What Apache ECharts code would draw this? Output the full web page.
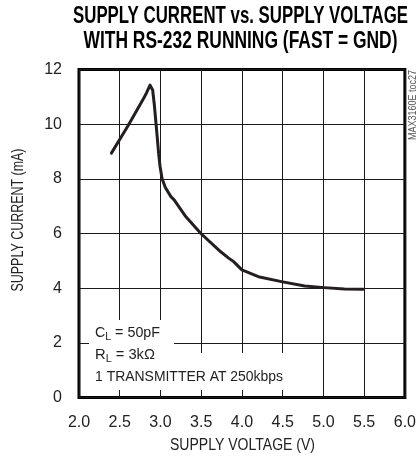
<!DOCTYPE html>
<html><head><meta charset="utf-8">
<script src="https://cdn.jsdelivr.net/npm/echarts@6/dist/echarts.min.js"></script>
<style>html,body{margin:0;padding:0;background:#fff}#c{width:419px;height:457px}</style>
</head><body><div id="c"></div>
<script>
var voltage = [2.398, 2.6, 2.782, 2.83, 2.872, 2.904, 2.925, 2.945, 2.961, 2.977, 2.995, 3.02, 3.06, 3.128, 3.168, 3.31, 3.493, 3.736, 3.837, 3.898, 3.999, 4.202, 4.485, 4.77, 5.013, 5.257, 5.491];
var current = [8.94, 9.93, 10.88, 11.15, 11.43, 11.25, 10.7, 10.03, 9.5, 8.94, 8.45, 8.0, 7.68, 7.35, 7.23, 6.62, 6.01, 5.34, 5.10, 4.97, 4.67, 4.42, 4.24, 4.08, 4.02, 3.97, 3.96];
var xTicks = ['2.0','2.5','3.0','3.5','4.0','4.5','5.0','5.5','6.0'];
var yTicks = ['0','2','4','6','8','10','12'];
var titleLines = ['SUPPLY CURRENT vs. SUPPLY VOLTAGE', 'WITH RS-232 RUNNING (FAST = GND)'];
var xName = 'SUPPLY VOLTAGE (V)';
var yName = 'SUPPLY CURRENT (mA)';
var noteLines = [['C', 'L', ' = 50pF'], ['R', 'L', ' = 3kΩ'], ['1 TRANSMITTER AT 250kbps']];
var figId = 'MAX3160E toc27';

var FONT = '"Liberation Sans", Arial, sans-serif';
var mctx = document.createElement('canvas').getContext('2d');
function tw(text, size, weight) {
  mctx.font = (weight || 'normal') + ' ' + size + 'px ' + FONT;
  return mctx.measureText(text).width;
}

var chart = echarts.init(document.getElementById('c'), null, {renderer: 'canvas'});
var pts = voltage.map(function (v, i) { return [v, current[i]]; });

var graphics = [];
var tTargets = [335, 314], tY = [16.5, 41.5];
titleLines.forEach(function (t, i) {
  graphics.push({type: 'text', x: 240.5, y: tY[i], scaleX: tTargets[i] / tw(t, 24, 'bold'),
    style: {text: t, fontFamily: FONT, fontWeight: 'bold', fontSize: 24, fill: '#000', align: 'center', verticalAlign: 'middle'}});
});
graphics.push({type: 'text', x: 242.5, y: 446, scaleX: 145 / tw(xName, 16),
  style: {text: xName, fontFamily: FONT, fontSize: 16, fill: '#222', align: 'center', verticalAlign: 'middle'}});
graphics.push({type: 'text', x: 19, y: 220, rotation: Math.PI / 2, scaleX: 143 / tw(yName, 16),
  style: {text: yName, fontFamily: FONT, fontSize: 16, fill: '#222', align: 'center', verticalAlign: 'middle'}});
graphics.push({type: 'text', x: 413.5, y: 105, rotation: Math.PI / 2, scaleX: 70 / tw(figId, 10),
  style: {text: figId, fontFamily: FONT, fontSize: 10, fill: '#555', align: 'center', verticalAlign: 'middle'}});
graphics.push({type: 'rect', shape: {x: 89, y: 320, width: 85, height: 37}, style: {fill: '#fff'}, z: 5});
graphics.push({type: 'rect', shape: {x: 89, y: 353, width: 198, height: 37}, style: {fill: '#fff'}, z: 5});
var nTargets = [65, 60, 188], nY = [333, 355, 377];
noteLines.forEach(function (p, i) {
  var w, text, rich;
  if (p.length === 3) {
    w = tw(p[0], 15) + tw(p[1], 11) + tw(p[2], 15);
    text = '{m|' + p[0] + '}{s|' + p[1] + '}{m|' + p[2] + '}';
  } else {
    w = tw(p[0], 15);
    text = '{m|' + p[0] + '}';
  }
  rich = {m: {fontFamily: FONT, fontSize: 15, fill: '#222', lineHeight: 18},
          s: {fontFamily: FONT, fontSize: 11, fill: '#222', lineHeight: 18, verticalAlign: 'bottom', padding: [7, 0, 0, 0]}};
  graphics.push({type: 'text', x: 95, y: nY[i], scaleX: nTargets[i] / w, z: 10,
    style: {text: text, rich: rich, align: 'left', verticalAlign: 'middle'}});
});

chart.setOption({
  backgroundColor: '#fff',
  animation: false,
  grid: {left: 79, right: 12, top: 69.5, bottom: 59.5, show: true, borderColor: '#000', borderWidth: 3, backgroundColor: 'transparent'},
  xAxis: {
    type: 'value', min: 2, max: 6, interval: 0.5,
    axisLine: {show: false}, axisTick: {show: false},
    splitLine: {show: true, lineStyle: {color: '#1a1a1a', width: 1}},
    axisLabel: {margin: 17, fontFamily: FONT, fontSize: 16, color: '#222',
      formatter: function (v) { return xTicks[Math.round((v - 2) / 0.5)]; }}
  },
  yAxis: {
    type: 'value', min: 0, max: 12, interval: 2,
    axisLine: {show: false}, axisTick: {show: false},
    splitLine: {show: true, lineStyle: {color: '#1a1a1a', width: 1}},
    axisLabel: {margin: 17, fontFamily: FONT, fontSize: 16, color: '#222',
      formatter: function (v) { return yTicks[Math.round(v / 2)]; }}
  },
  series: [{
    type: 'line', data: pts, showSymbol: false, smooth: false,
    lineStyle: {color: '#231f20', width: 3, join: 'round', cap: 'round'}, z: 3
  }],
  graphic: graphics
});
</script></body></html>
